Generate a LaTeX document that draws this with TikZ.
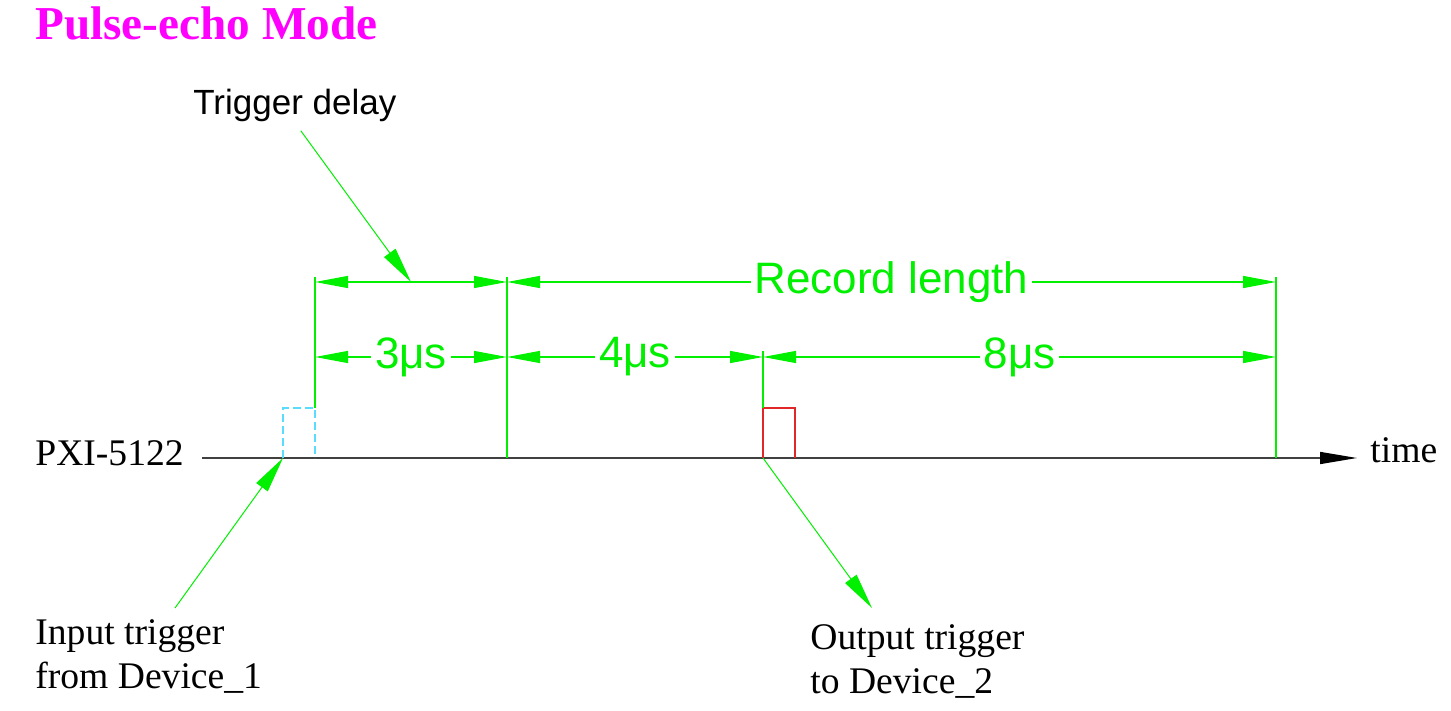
\documentclass[tikz,border=0pt]{standalone}
\usepackage{fontspec}
\setmainfont{Liberation Serif}
\newfontfamily\arialfont{Liberation Sans}
\usetikzlibrary{arrows.meta}

\definecolor{dimgreen}{RGB}{0,240,0}
\definecolor{titlemagenta}{RGB}{255,0,255}
\definecolor{pulsecyan}{RGB}{90,220,255}
\definecolor{pulsered}{RGB}{225,40,40}

\begin{document}
\begin{tikzpicture}[x=0.5pt, y=-0.5pt,
    dimline/.style={dimgreen, line width=0.6pt,
      {Triangle[length=16.5pt,width=6pt]}-{Triangle[length=16.5pt,width=6pt]}},
    extline/.style={dimgreen, line width=0.6pt},
    leader/.style={dimgreen, line width=0.5pt, -{Triangle[length=18pt,width=7pt]}},
    dimlabel/.style={fill=white, text=dimgreen, inner sep=2pt,
      font=\arialfont\fontsize{22}{26}\selectfont},
    seriflabel/.style={inner sep=0pt, font=\fontsize{18.8}{22}\selectfont},
    pulse/.style={line width=0.6pt}]
  % Fix the page to the size of the reference
  \useasboundingbox (0,0) rectangle (1451,711);

  % Title
  \node[anchor=base west, inner sep=0pt, text=titlemagenta,
    font=\bfseries\fontsize{23.6}{28}\selectfont] (title) at (35,40) {Pulse-echo Mode};

  % Time axis
  \coordinate (axstart) at (202,458);
  \coordinate (axend) at (1357,458);
  \draw[line width=0.75pt, black!75, -{Triangle[length=18.5pt,width=6pt,black]}] (axstart) -- (axend);
  \node[seriflabel, anchor=base west] (pxi) at (35,465) {PXI-5122};
  \node[seriflabel, anchor=base west] (time) at (1370,462) {time};

  % Trigger pulses (input dashed, output solid)
  \coordinate (inrise) at (283,458);
  \coordinate (outrise) at (763,458);
  \draw[pulse, pulsecyan, dash pattern=on 4pt off 2pt] (inrise) -- (283,408) -- (315,408) -- (315,458);
  \draw[pulse, pulsered] (outrise) -- (763,408) -- (795,408) -- (795,458);

  % Extension lines
  \coordinate (e1top) at (315,277);  \coordinate (e1bot) at (315,408);
  \coordinate (e2top) at (507,277);  \coordinate (e2bot) at (507,458);
  \coordinate (e3top) at (763,351);  \coordinate (e3bot) at (763,408);
  \coordinate (e4top) at (1276,277); \coordinate (e4bot) at (1276,458);
  \foreach \e in {e1,e2,e3,e4} {
    \draw[extline] (\e top) -- (\e bot);
  }

  % Upper row of dimensions
  \coordinate (u1) at (315,282);
  \coordinate (u2) at (507,282);
  \coordinate (u4) at (1276,282);
  \draw[dimline] (u1) -- (u2) coordinate[midway] (tdtip);
  \draw[dimline] (u2) -- (u4) node[midway, dimlabel] (reclen) {Record length};

  % Lower row of dimensions
  \coordinate (l1) at (315,357);
  \coordinate (l2) at (507,357);
  \coordinate (l3) at (763,357);
  \coordinate (l4) at (1276,357);
  \draw[dimline] (l1) -- (l2) node[midway, dimlabel] (three) {3μs};
  \draw[dimline] (l2) -- (l3) node[midway, dimlabel] (four) {4μs};
  \draw[dimline] (l3) -- (l4) node[midway, dimlabel] (eight) {8μs};

  % Trigger delay callout
  \node[anchor=base west, inner sep=0pt, font=\arialfont\fontsize{17.5}{21}\selectfont]
    (tdelay) at (193,115) {Trigger delay};
  \draw[leader, shorten <=5pt] (tdelay.south) -- (tdtip);

  % Input and output trigger callouts
  \node[seriflabel, anchor=north west, align=left] (intrig) at (35,619)
    {Input trigger\\from Device\_1};
  \node[seriflabel, anchor=north west, align=left] (outtrig) at (810,624)
    {Output trigger\\to Device\_2};
  \coordinate (intail) at (175,608);
  \coordinate (outtip) at (872,608);
  \draw[leader] (intail) -- (inrise);
  \draw[leader] (outrise) -- (outtip);
\end{tikzpicture}
\end{document}
